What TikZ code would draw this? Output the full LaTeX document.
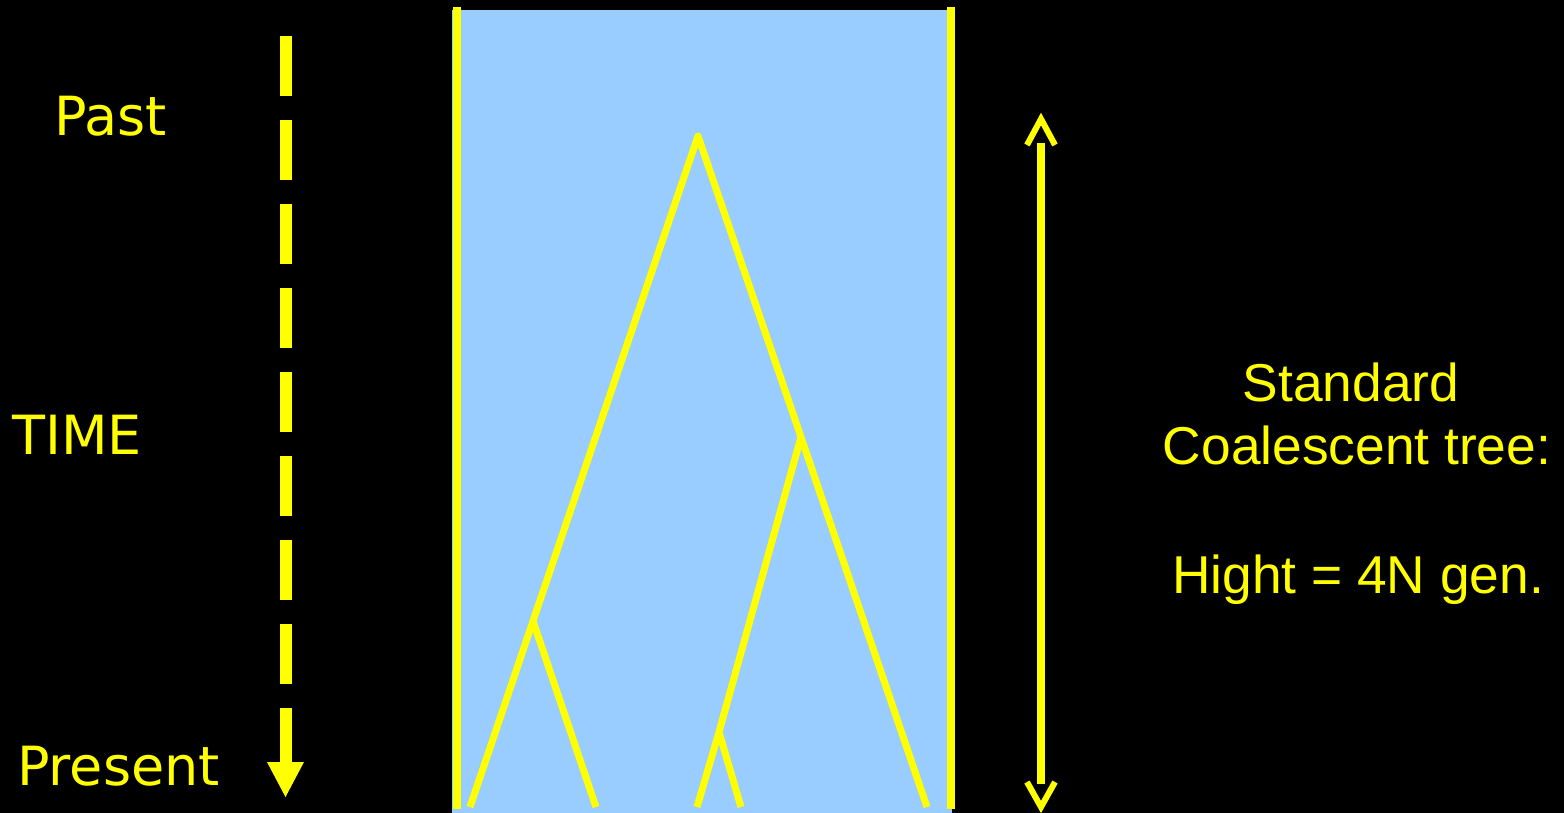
\documentclass[tikz,border=0pt]{standalone}
\usepackage{fontspec}
\setmainfont{DejaVu Sans}
\newfontfamily\arialfont{Liberation Sans}
\definecolor{ylw}{HTML}{FFFF00}
\definecolor{skyb}{HTML}{99CCFF}
\begin{document}
\begin{tikzpicture}[x=1pt,y=-1pt,
  lefttext/.style={text=ylw,inner sep=0pt,font=\fontsize{54}{64}\selectfont,anchor=base west},
  righttext/.style={text=ylw,inner sep=0pt,font=\arialfont\fontsize{53.3}{63}\selectfont,anchor=base},
  branch/.style={draw=ylw,line width=7pt,line join=round},
  wall/.style={draw=ylw,line width=8pt},
  chev/.style={draw=ylw,line width=6pt,line join=miter}]
\useasboundingbox (0,0) rectangle (1564,812);
\fill[black] (-10,-10) rectangle (1574,822);
% population box
\fill[skyb] (452,10) rectangle (952,822);
\coordinate (wlt) at (456.5,7); \coordinate (wlb) at (456.5,809);
\coordinate (wrt) at (950.5,7); \coordinate (wrb) at (950.5,809);
\draw[wall] (wlt) -- (wlb);
\draw[wall] (wrt) -- (wrb);
% tree
\coordinate (root) at (698,136);
\coordinate (na) at (533,621);
\coordinate (nb) at (801,437);
\coordinate (nc) at (719,732);
\coordinate (l1) at (470,807);
\coordinate (l2) at (596,807);
\coordinate (l3) at (697,807);
\coordinate (l4) at (741,807);
\coordinate (l5) at (927,807);
\draw[branch] (l1) -- (na) -- (root) -- (nb) -- (l5);
\draw[branch] (na) -- (l2);
\draw[branch] (nb) -- (nc) -- (l3);
\draw[branch] (nc) -- (l4);
% time arrow
\coordinate (dtop) at (285.5,36);
\coordinate (dbot) at (285.5,762);
\draw[ylw,line width=12pt,dash pattern=on 60pt off 24pt] (dtop) -- (dbot);
\fill[ylw] (dbot) ++(-18.5,0) -- ++(37,0) -- (285.5,797) -- cycle;
% labels
\node[lefttext] (past) at (54,135) {Past};
\node[lefttext] (time) at (12,454) {TIME};
\node[lefttext] (present) at (17,785) {Present};
% height arrow
\coordinate (htop) at (1041,143);
\coordinate (hbot) at (1041,784);
\draw[ylw,line width=8pt] (htop) -- (hbot);
\draw[chev] (1027,145) -- (1041,119) -- (1055,145);
\draw[chev] (1027,782) -- (1041,807) -- (1055,782);
% right text
\node[righttext] (t1) at (1351,401) {Standard};
\node[righttext] (t2) at (1357,464) {Coalescent tree:};
\node[righttext] (t3) at (1358,593) {Hight = 4N gen.};
\end{tikzpicture}
\end{document}
